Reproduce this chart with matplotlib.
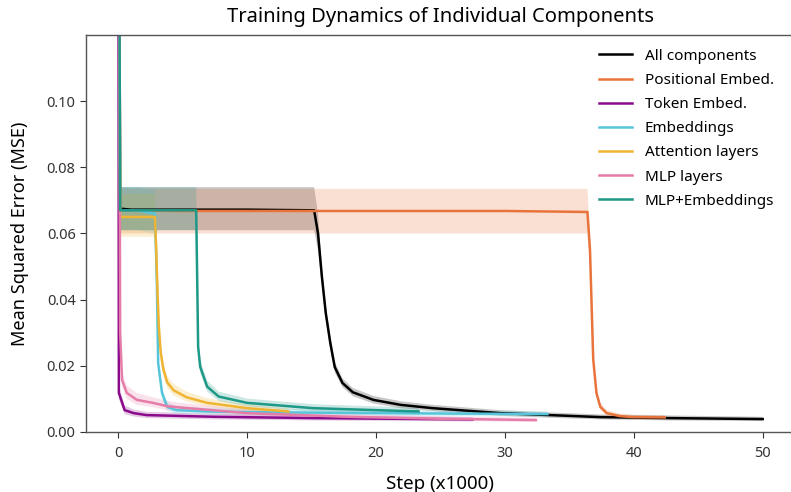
import numpy as np
import matplotlib.pyplot as plt

plt.rcParams['font.family'] = ['Noto Sans', 'DejaVu Sans']

all_x = [0, 0.15, 1, 5, 10, 15.2, 15.5, 15.8, 16.1, 16.45, 16.8, 17.4, 18.2, 19.8, 21.9, 24.4, 29.6, 33.5, 37.4, 42.6, 50]
all_y = [0.25, 0.0675, 0.0672, 0.0672, 0.0672, 0.067, 0.060, 0.047, 0.036, 0.027, 0.0196, 0.0148, 0.012, 0.0097, 0.0082, 0.0072, 0.0057, 0.0051, 0.0045, 0.0042, 0.0039]
all_lo = [0.25, 0.061, 0.061, 0.061, 0.061, 0.061, 0.055, 0.044, 0.034, 0.025, 0.018, 0.0135, 0.0108, 0.0086, 0.0072, 0.0063, 0.0049, 0.0043, 0.0038, 0.0035, 0.0033]
all_hi = [0.25, 0.074, 0.074, 0.074, 0.074, 0.074, 0.066, 0.050, 0.038, 0.029, 0.0212, 0.0162, 0.0133, 0.0109, 0.0093, 0.0082, 0.0066, 0.0059, 0.0053, 0.0050, 0.0046]

pos_x = [0, 0.15, 5, 10, 20, 30, 36.4, 36.6, 36.75, 36.85, 37.1, 37.4, 37.9, 38.9, 39.9, 42.4]
pos_y = [0.25, 0.067, 0.0668, 0.0668, 0.0668, 0.0668, 0.0665, 0.055, 0.035, 0.022, 0.0118, 0.0076, 0.0057, 0.0048, 0.0045, 0.0044]
pos_lo = [0.25, 0.060, 0.060, 0.060, 0.060, 0.060, 0.060, 0.050, 0.032, 0.020, 0.0105, 0.0066, 0.0049, 0.0041, 0.0038, 0.0037]
pos_hi = [0.25, 0.0735, 0.0735, 0.0735, 0.0735, 0.0735, 0.0735, 0.060, 0.038, 0.024, 0.0131, 0.0088, 0.0066, 0.0056, 0.0052, 0.0051]

tok_x = [0, 0.05, 0.5, 1.2, 2.2, 7.4, 15, 27.5]
tok_y = [0.25, 0.0118, 0.0066, 0.0057, 0.0051, 0.0046, 0.0042, 0.0038]
tok_lo = [0.25, 0.010, 0.0054, 0.0047, 0.0042, 0.0038, 0.0035, 0.0032]
tok_hi = [0.25, 0.014, 0.0080, 0.0068, 0.0061, 0.0055, 0.0050, 0.0045]

emb_x = [0, 0.15, 1.5, 2.85, 3.0, 3.1, 3.4, 3.8, 4.5, 7, 10, 20, 33.3]
emb_y = [0.25, 0.067, 0.067, 0.066, 0.045, 0.0208, 0.0118, 0.0076, 0.0066, 0.0062, 0.006, 0.0057, 0.0054]
emb_lo = [0.25, 0.061, 0.061, 0.060, 0.040, 0.018, 0.010, 0.0064, 0.0056, 0.0053, 0.0051, 0.0049, 0.0046]
emb_hi = [0.25, 0.074, 0.074, 0.073, 0.050, 0.023, 0.0135, 0.0090, 0.0078, 0.0072, 0.0070, 0.0066, 0.0063]

att_x = [0, 0.15, 1.5, 2.85, 2.95, 3.05, 3.15, 3.3, 3.5, 3.8, 4.3, 5.3, 6.9, 10, 13.2]
att_y = [0.25, 0.065, 0.065, 0.065, 0.055, 0.042, 0.032, 0.024, 0.0190, 0.0150, 0.0126, 0.0105, 0.0088, 0.0072, 0.0062]
att_lo = [0.25, 0.059, 0.059, 0.059, 0.050, 0.038, 0.029, 0.0215, 0.0170, 0.0133, 0.0110, 0.0092, 0.0077, 0.0063, 0.0054]
att_hi = [0.25, 0.072, 0.072, 0.072, 0.060, 0.046, 0.035, 0.0265, 0.0212, 0.0170, 0.0145, 0.0122, 0.0102, 0.0083, 0.0071]

mlp_x = [0, 0.15, 0.3, 0.67, 1.45, 2.7, 3.8, 4.8, 10, 17.7, 25, 32.4]
mlp_y = [0.25, 0.030, 0.0157, 0.0118, 0.0097, 0.0088, 0.0078, 0.0074, 0.0057, 0.0046, 0.0040, 0.0036]
mlp_lo = [0.25, 0.026, 0.0135, 0.0100, 0.0082, 0.0075, 0.0066, 0.0063, 0.0048, 0.0039, 0.0034, 0.0030]
mlp_hi = [0.25, 0.034, 0.0180, 0.0140, 0.0118, 0.0105, 0.0094, 0.0088, 0.0068, 0.0055, 0.0047, 0.0043]

mle_x = [0, 0.15, 3, 6.05, 6.15, 6.2, 6.36, 6.9, 7.8, 10, 15.1, 23.3]
mle_y = [0.25, 0.067, 0.067, 0.067, 0.040, 0.0258, 0.0197, 0.0137, 0.0107, 0.0088, 0.0072, 0.0062]
mle_lo = [0.25, 0.061, 0.061, 0.061, 0.036, 0.023, 0.0178, 0.0122, 0.0094, 0.0077, 0.0062, 0.0053]
mle_hi = [0.25, 0.074, 0.074, 0.074, 0.044, 0.0285, 0.0218, 0.0155, 0.0122, 0.0101, 0.0084, 0.0073]

series = [
    ("All components", "#000000", all_x, all_y, all_lo, all_hi),
    ("Positional Embed.", "#E8743B", pos_x, pos_y, pos_lo, pos_hi),
    ("Token Embed.", "#8B0A8B", tok_x, tok_y, tok_lo, tok_hi),
    ("Embeddings", "#56C5DA", emb_x, emb_y, emb_lo, emb_hi),
    ("Attention layers", "#EFB431", att_x, att_y, att_lo, att_hi),
    ("MLP layers", "#E67CA8", mlp_x, mlp_y, mlp_lo, mlp_hi),
    ("MLP+Embeddings", "#1E9887", mle_x, mle_y, mle_lo, mle_hi),
]

fig = plt.figure(figsize=(7.91, 4.92), dpi=100)
ax = fig.add_axes([0.1087, 0.122, 0.8963, 0.8069])

for name, col, x, y, lo, hi in series:
    ax.fill_between(x, lo, hi, color=col, alpha=0.22, linewidth=0)
    ax.plot(x, y, color=col, linewidth=1.8, label=name)

ax.set_xlim(-2.5, 52.5)
ax.set_ylim(0, 0.12)
ax.set_xticks([0, 10, 20, 30, 40, 50])
ax.set_yticks([0.0, 0.02, 0.04, 0.06, 0.08, 0.10])
ax.yaxis.set_major_formatter(plt.FormatStrFormatter('%.2f'))
ax.tick_params(labelsize=10.5, colors='#333333', length=4, direction='out')
ax.tick_params(axis='x', pad=6)
for s in ['left', 'bottom', 'top']:
    ax.spines[s].set_color('#555555')
    ax.spines[s].set_linewidth(1.0)
ax.spines['right'].set_visible(False)

ax.set_xlabel("Step (x1000)", fontsize=13.5, labelpad=10)
ax.set_ylabel("Mean Squared Error (MSE)", fontsize=13, labelpad=13)
ax.set_title("Training Dynamics of Individual Components", fontsize=14.5, pad=9)

leg = ax.legend(loc='upper right', frameon=False, fontsize=11, handlelength=2.2,
                borderaxespad=0.5, bbox_to_anchor=(0.99, 1.0), labelspacing=0.6)

fig.savefig("out.png", dpi=100)
